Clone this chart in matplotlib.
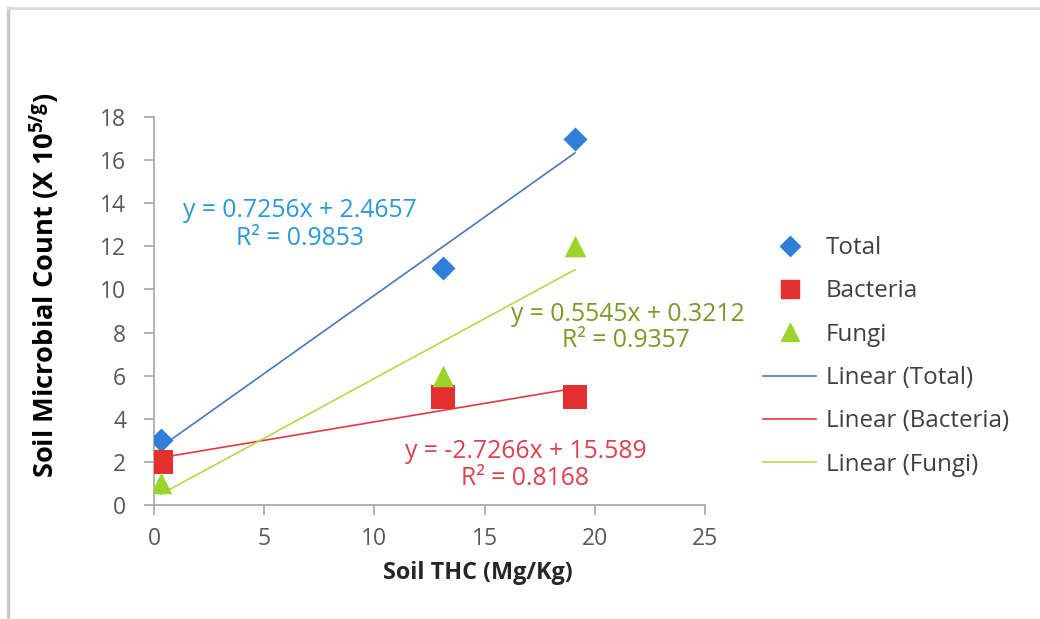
import numpy as np
import matplotlib
matplotlib.use("Agg")
import matplotlib.pyplot as plt
from matplotlib.lines import Line2D

# Data
thc = [0.3, 13.1, 19.1]
total = [3, 11, 17]
bacteria = [2, 5, 5]
fungi = [1, 6, 12]

eq_total = ["y = 0.7256x + 2.4657", "R² = 0.9853"]
eq_fungi = ["y = 0.5545x + 0.3212", "R² = 0.9357"]
eq_bact = ["y = -2.7266x + 15.589", "R² = 0.8168"]

xticks = [0, 5, 10, 15, 20, 25]
yticks = [0, 2, 4, 6, 8, 10, 12, 14, 16, 18]

plt.rcParams['font.family'] = ['Open Sans', 'DejaVu Sans']
plt.rcParams['mathtext.fontset'] = 'custom'
plt.rcParams['mathtext.rm'] = 'Open Sans'
plt.rcParams['mathtext.bf'] = 'Open Sans:bold'

W, H = 1040, 619
fig = plt.figure(figsize=(10.4, 6.19), dpi=100)
ax = fig.add_axes([154/W, 1-505/H, (705-154)/W, (505-117)/H])

c_total_m = '#2f7ed8'
c_bact_m = '#e3302f'
c_fungi_m = '#9bd42a'
c_total_l = '#4a78b8'
c_bact_l = '#e03a45'
c_fungi_l = '#c3d24a'

x = np.array(thc)
xs = np.array([x.min(), x.max()])
for ys, col in [(total, c_total_l), (bacteria, c_bact_l), (fungi, c_fungi_l)]:
    p = np.polyfit(x, np.array(ys, dtype=float), 1)
    ax.plot(xs, np.polyval(p, xs), color=col, lw=1.2, zorder=2)

ax.scatter(thc, total, marker='D', s=150, color=c_total_m, zorder=3, linewidths=0)
ax.scatter(thc, bacteria, marker='s', s=320, color=c_bact_m, zorder=3, linewidths=0)
ax.scatter(thc, fungi, marker='^', s=240, color=c_fungi_m, zorder=3, linewidths=0)

ax.set_xlim(0, 25)
ax.set_ylim(0, 18)
ax.set_xticks(xticks)
ax.set_yticks(yticks)
for s in ['top', 'right']:
    ax.spines[s].set_visible(False)
for s in ['left', 'bottom']:
    ax.spines[s].set_color('#a6a6a6')
    ax.spines[s].set_linewidth(1.2)
ax.tick_params(axis='both', colors='#a6a6a6', length=7, width=1.2, labelsize=16.5,
               labelcolor='#595959')
ax.tick_params(axis='y', pad=13)
ax.tick_params(axis='x', pad=9)

fig.text(478/W, 1-573/H, 'Soil THC (Mg/Kg)', fontsize=16.8, fontweight='bold',
         color='#262626', ha='center', va='center')
fig.text(45/W, 1-285/H, r'Soil Microbial Count (X 10$^{\mathbf{5/g}}$)', fontsize=19.6,
         fontweight='bold', color='black', rotation=90, ha='center', va='center')

fs_eq = 17.8
ax.text(6.62, 13.68, eq_total[0], color='#2a9ad4', fontsize=fs_eq, ha='center', va='center')
ax.text(6.62, 12.38, eq_total[1], color='#2a9ad4', fontsize=fs_eq, ha='center', va='center')
ax.text(21.5, 8.86, eq_fungi[0], color='#7a9a28', fontsize=fs_eq, ha='center', va='center')
ax.text(21.4, 7.61, eq_fungi[1], color='#7a9a28', fontsize=fs_eq, ha='center', va='center')
ax.text(16.85, 2.46, eq_bact[0], color='#e0404f', fontsize=fs_eq, ha='center', va='center')
ax.text(16.85, 1.21, eq_bact[1], color='#e0404f', fontsize=fs_eq, ha='center', va='center')

handles = [
    Line2D([], [], ls='none', marker='D', color=c_total_m, markersize=10),
    Line2D([], [], ls='none', marker='s', color=c_bact_m, markersize=13),
    Line2D([], [], ls='none', marker='^', color=c_fungi_m, markersize=13),
    Line2D([], [], color=c_total_l, lw=1.2),
    Line2D([], [], color=c_bact_l, lw=1.2),
    Line2D([], [], color=c_fungi_l, lw=1.2),
]
labels = ['Total', 'Bacteria', 'Fungi', 'Linear (Total)', 'Linear (Bacteria)', 'Linear (Fungi)']
leg = fig.legend(handles, labels, loc='upper left', bbox_to_anchor=(763/W, 1-236/H),
                 frameon=False, fontsize=17.4, labelspacing=0.8, handlelength=2.2,
                 handletextpad=0.4, borderaxespad=0, borderpad=0)
for t in leg.get_texts():
    t.set_color('#404040')

# outer frame edges
fig.add_artist(Line2D([8/W, 8/W], [0, 1-8/H], color='#c8c8c8', lw=2.5,
                      transform=fig.transFigure))
fig.add_artist(Line2D([8/W, 1], [1-8/H, 1-8/H], color='#dcdcdc', lw=2,
                      transform=fig.transFigure))

fig.savefig('out.png', dpi=100)
